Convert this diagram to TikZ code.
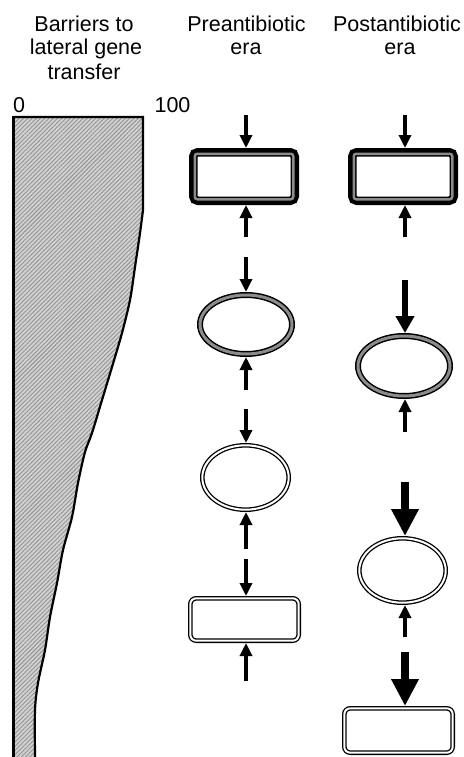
\documentclass[tikz,border=0pt]{standalone}
\usepackage{fontspec}
\setmainfont{Liberation Sans}
\usetikzlibrary{arrows.meta,shapes.geometric,patterns.meta}
\newcommand\thickframe[1]{%
 \draw[line width=8.5pt, rounded corners=4.5pt] ([shift={(4.25pt,-4.25pt)}]#1.north west) rectangle ([shift={(-4.25pt,4.25pt)}]#1.south east);
 \draw[black!45, line width=2.5pt, rounded corners=2.5pt] ([shift={(5.75pt,-5.75pt)}]#1.north west) rectangle ([shift={(-5.75pt,5.75pt)}]#1.south east);}
\begin{document}
\begin{tikzpicture}[x=1pt,y=-1pt,
  lbl/.style={font=\fontsize{21.5pt}{25pt}\selectfont, anchor=base, inner sep=0pt},
  thickbox/.style={rectangle, minimum width=110pt, minimum height=57pt, inner sep=0pt, outer sep=0pt},
  grayell/.style={ellipse, draw=black, line width=1.5pt, double=black!45, double distance=3pt, minimum width=92pt, minimum height=59pt, inner sep=0pt, outer sep=3pt},
  dblell/.style={ellipse, draw=black, line width=1.3pt, double=white, double distance=2pt, minimum width=86.4pt, minimum height=64.4pt, inner sep=0pt, outer sep=2.3pt},
  dblbox/.style={rectangle, rounded corners=6pt, draw=black, line width=1.3pt, double=white, double distance=2pt, minimum width=108.4pt, minimum height=42.4pt, inner sep=0pt, outer sep=2.3pt},
  arr/.style={line width=3.5pt, -{Triangle[length=13pt,width=12pt]}},
  arrmed/.style={line width=5.5pt, -{Triangle[length=17pt,width=18pt]}},
  arrbig/.style={line width=8.5pt, -{Triangle[length=27pt,width=26pt]}},
]
\useasboundingbox (0,0) rectangle (463,757);

% barrier shape
\def\curvepts{(143,210) (140,233) (135,267) (130,300) (122,333) (112,367) (102,400) (92,433) (85,452) (78,483) (72,517) (63,550) (57,583) (50,617) (45,650) (38,683) (35,710) (35,757)}
\fill[black!18] (13,117) -- (143,117) -- (143,210) -- plot[smooth, tension=0.5] coordinates {\curvepts} -- (13,757) -- cycle;
\fill[pattern={Lines[angle=45,distance=3pt,line width=0.9pt]}, pattern color=black!42] (13,117) -- (143,117) -- (143,210) -- plot[smooth, tension=0.5] coordinates {\curvepts} -- (13,757) -- cycle;
\draw[line width=2.2pt, line join=miter] (13.5,117) -- (143,117) -- (143,210) -- plot[smooth, tension=0.5] coordinates {\curvepts};
\draw[line width=3pt] (13.5,757) -- (13.5,116);

% texts
\node[lbl] (t1) at (84,31.5) {Barriers to};
\node[lbl] (t2) at (86,55) {lateral gene};
\node[lbl] (t3) at (84,80) {transfer};
\node[lbl] (t4) at (246.5,31.5) {Preantibiotic};
\node[lbl] (t5) at (246,55) {era};
\node[lbl] (t6) at (397,31.5) {Postantibiotic};
\node[lbl] (t7) at (400,55) {era};
\node[lbl] (t8) at (19,113) {0};
\node[lbl] (t9) at (172.5,113) {100};

% preantibiotic column
\node[thickbox] (r1) at (244,176.5) {};
\thickframe{r1}
\node[grayell] (e1) at (246,324.5) {};
\node[dblell] (e2) at (245.5,477.5) {};
\node[dblbox] (r3) at (244.5,619.5) {};

% postantibiotic column
\node[thickbox] (q1) at (403,176.5) {};
\thickframe{q1}
\node[grayell, minimum height=60pt] (f1) at (404,366) {};
\node[dblell] (f2) at (402.5,570.5) {};
\node[dblbox, minimum height=44.4pt] (q3) at (398.5,730.5) {};

% arrow free ends
\coordinate (a1) at (246,115);
\coordinate (a2) at (246,237);
\coordinate (a3) at (246,257);
\coordinate (a4) at (246,390);
\coordinate (a5) at (246,409);
\coordinate (a6) at (246,549);
\coordinate (a7) at (246,559);
\coordinate (a8) at (246,681);
\coordinate (b1) at (405,115);
\coordinate (b2) at (405,237);
\coordinate (b3) at (405,280);
\coordinate (b4) at (405,432);
\coordinate (b5) at (405,482);
\coordinate (b6) at (405,637);
\coordinate (b7) at (405,652);

\draw[arr] (a1) -- (a1 |- r1.north);
\draw[arr] (a2) -- (a2 |- r1.south);
\draw[arr] (a3) -- (a3 |- e1.north);
\draw[arr] (a4) -- (a4 |- e1.south);
\draw[arr] (a5) -- (a5 |- e2.north);
\draw[arr] (a6) -- (a6 |- e2.south);
\draw[arr] (a7) -- (a7 |- r3.north);
\draw[arr] (a8) -- (a8 |- r3.south);

\draw[arr] (b1) -- (b1 |- q1.north);
\draw[arr] (b2) -- (b2 |- q1.south);
\draw[arrmed] (b3) -- (b3 |- f1.north);
\draw[arr] (b4) -- (b4 |- f1.south);
\draw[arrbig] (b5) -- (b5 |- f2.north);
\draw[arr] (b6) -- (b6 |- f2.south);
\draw[arrbig] (b7) -- (b7 |- q3.north);
\end{tikzpicture}
\end{document}
